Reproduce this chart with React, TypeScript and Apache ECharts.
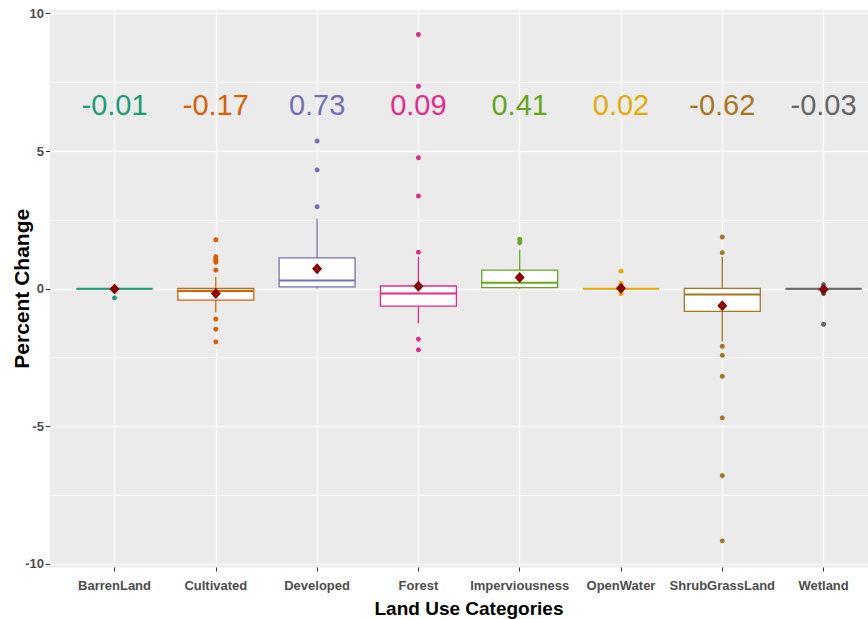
import React, { useEffect, useRef } from 'react';
import * as echarts from 'echarts';

const categories = ['BarrenLand', 'Cultivated', 'Developed', 'Forest', 'Imperviousness', 'OpenWater', 'ShrubGrassLand', 'Wetland'];
const colors = ['#1B9E77', '#D95F02', '#7570B3', '#E7298A', '#66A61E', '#E6AB02', '#A6761D', '#666666'];

const whiskerLow = [0, -0.86, 0, -1.26, 0, 0, -1.92, 0];
const q1 = [0, -0.41, 0.07, -0.63, 0.04, 0, -0.82, 0];
const median = [0, -0.08, 0.3, -0.17, 0.22, 0, -0.21, 0];
const q3 = [0, 0.01, 1.12, 0.1, 0.68, 0, 0.01, 0];
const whiskerHigh = [0, 0.44, 2.55, 1.16, 1.42, 0, 1.16, 0];
const means = [-0.01, -0.17, 0.73, 0.09, 0.41, 0.02, -0.62, -0.03];

const outliers = [
  [-0.33],
  [1.78, 1.17, 1.1, 1.03, 0.96, 0.68, -1.1, -1.47, -1.93],
  [5.37, 4.32, 2.98],
  [9.24, 7.36, 4.76, 3.37, 1.33, -1.83, -2.22],
  [1.8, 1.68],
  [0.64, 0.2, 0.1, -0.1, -0.18],
  [1.88, 1.31, -2.09, -2.42, -3.18, -4.69, -6.79, -9.16],
  [0.15, 0.05, -0.1, -0.18, -1.29],
];

const yTicks = [-10, -5, 0, 5, 10];
const labelY = 6.67;
const FONT = '"Liberation Sans", Arial, sans-serif';

export default function App() {
  const ref = useRef<HTMLDivElement>(null);
  useEffect(() => {
    const chart = echarts.init(ref.current as HTMLDivElement, null, { renderer: 'svg' });
    const xIdx = categories.map((_, i) => i);
    const boxData = categories.map((_, i) => [i, whiskerLow[i], q1[i], median[i], q3[i], whiskerHigh[i]]);
    const outlierData: any[] = [];
    outliers.forEach((arr, i) =>
      arr.forEach((v) => outlierData.push({ value: [i, v], itemStyle: { color: colors[i], opacity: 1 } }))
    );
    const meanData = means.map((m, i) => [i, m]);
    const labelData = means.map((m, i) => ({
      value: [i, labelY],
      label: { color: colors[i] },
    }));

    const option: any = {
      animation: false,
      textStyle: { fontFamily: FONT },
      grid: {
        left: 50,
        right: -20,
        top: 10,
        bottom: 51.5,
        show: true,
        backgroundColor: '#EBEBEB',
        borderWidth: 0,
        containLabel: false,
        outerBoundsMode: 'none',
      },
      xAxis: {
        type: 'value',
        min: -0.637,
        max: 7.636,
        axisLine: { show: false, onZero: false },
        axisTick: { show: true, length: 4, lineStyle: { color: '#333333', width: 1 }, customValues: xIdx },
        axisLabel: {
          customValues: xIdx,
          formatter: (v: number) => categories[Math.round(v)] ?? '',
          color: '#4D4D4D',
          fontWeight: 'bold',
          fontSize: 13,
          margin: 11,
          fontFamily: FONT,
        },
        splitLine: { show: true, lineStyle: { color: '#FFFFFF', width: 1.3 } },
        name: 'Land Use Categories',
        nameLocation: 'middle',
        nameGap: 31,
        nameMoveOverlap: false,
        nameTextStyle: { fontSize: 19, fontWeight: 'bold', color: '#000000', fontFamily: FONT },
      },
      yAxis: {
        type: 'value',
        min: -10.13,
        max: 10.13,
        axisLine: { show: false, onZero: false },
        axisTick: { show: true, length: 4, lineStyle: { color: '#333333', width: 1 }, customValues: yTicks },
        axisLabel: {
          customValues: yTicks,
          color: '#4D4D4D',
          fontWeight: 'bold',
          fontSize: 13,
          margin: 6,
          fontFamily: FONT,
        },
        splitLine: { show: true, lineStyle: { color: '#FFFFFF', width: 1.3 } },
        minorTick: { show: false, splitNumber: 2 },
        minorSplitLine: { show: true, lineStyle: { color: '#FFFFFF', width: 0.8 } },
        name: 'Percent Change',
        nameLocation: 'middle',
        nameGap: 18,
        nameRotate: 90,
        nameMoveOverlap: false,
        nameTextStyle: { fontSize: 21, fontWeight: 'bold', color: '#000000', fontFamily: FONT },
      },
      series: [
        {
          type: 'custom',
          data: boxData,
          encode: { x: 0, y: [1, 2, 3, 4, 5] },
          z: 3,
          silent: true,
          renderItem: (params: any, api: any) => {
            const i = params.dataIndex;
            const c = colors[i];
            const x = api.value(0);
            const half = api.size([0.75, 0])[0] / 2;
            const pLo = api.coord([x, api.value(1)]);
            const pQ1 = api.coord([x, api.value(2)]);
            const pMed = api.coord([x, api.value(3)]);
            const pQ3 = api.coord([x, api.value(4)]);
            const pHi = api.coord([x, api.value(5)]);
            const cx = pQ1[0];
            const lw = 1.3;
            return {
              type: 'group',
              children: [
                { type: 'line', shape: { x1: cx, y1: pHi[1], x2: cx, y2: pQ3[1] }, style: { stroke: c, lineWidth: lw } },
                { type: 'line', shape: { x1: cx, y1: pQ1[1], x2: cx, y2: pLo[1] }, style: { stroke: c, lineWidth: lw } },
                {
                  type: 'rect',
                  shape: { x: cx - half, y: pQ3[1], width: half * 2, height: pQ1[1] - pQ3[1] },
                  style: { fill: '#FFFFFF', stroke: c, lineWidth: lw },
                },
                {
                  type: 'line',
                  shape: { x1: cx - half, y1: pMed[1], x2: cx + half, y2: pMed[1] },
                  style: { stroke: c, lineWidth: 2 },
                },
              ],
            };
          },
        },
        {
          type: 'scatter',
          data: outlierData,
          symbol: 'circle',
          symbolSize: 5,
          itemStyle: { opacity: 1 },
          z: 4,
          silent: true,
        },
        {
          type: 'scatter',
          data: meanData,
          symbol: 'diamond',
          symbolSize: [10, 11],
          itemStyle: { color: '#8B0000', opacity: 1 },
          z: 5,
          silent: true,
        },
        {
          type: 'scatter',
          data: labelData,
          symbolSize: 0.1,
          itemStyle: { opacity: 1 },
          silent: true,
          z: 6,
          label: {
            show: true,
            position: 'inside',
            align: 'center',
            verticalAlign: 'middle',
            fontSize: 29,
            fontFamily: FONT,
            opacity: 1,
            formatter: (p: any) => means[p.dataIndex].toFixed(2),
          },
        },
      ],
    };
    chart.setOption(option);
    return () => chart.dispose();
  }, []);
  return <div ref={ref} style={{ position: 'absolute', left: 0, top: 0, width: 868, height: 619 }} />;
}
